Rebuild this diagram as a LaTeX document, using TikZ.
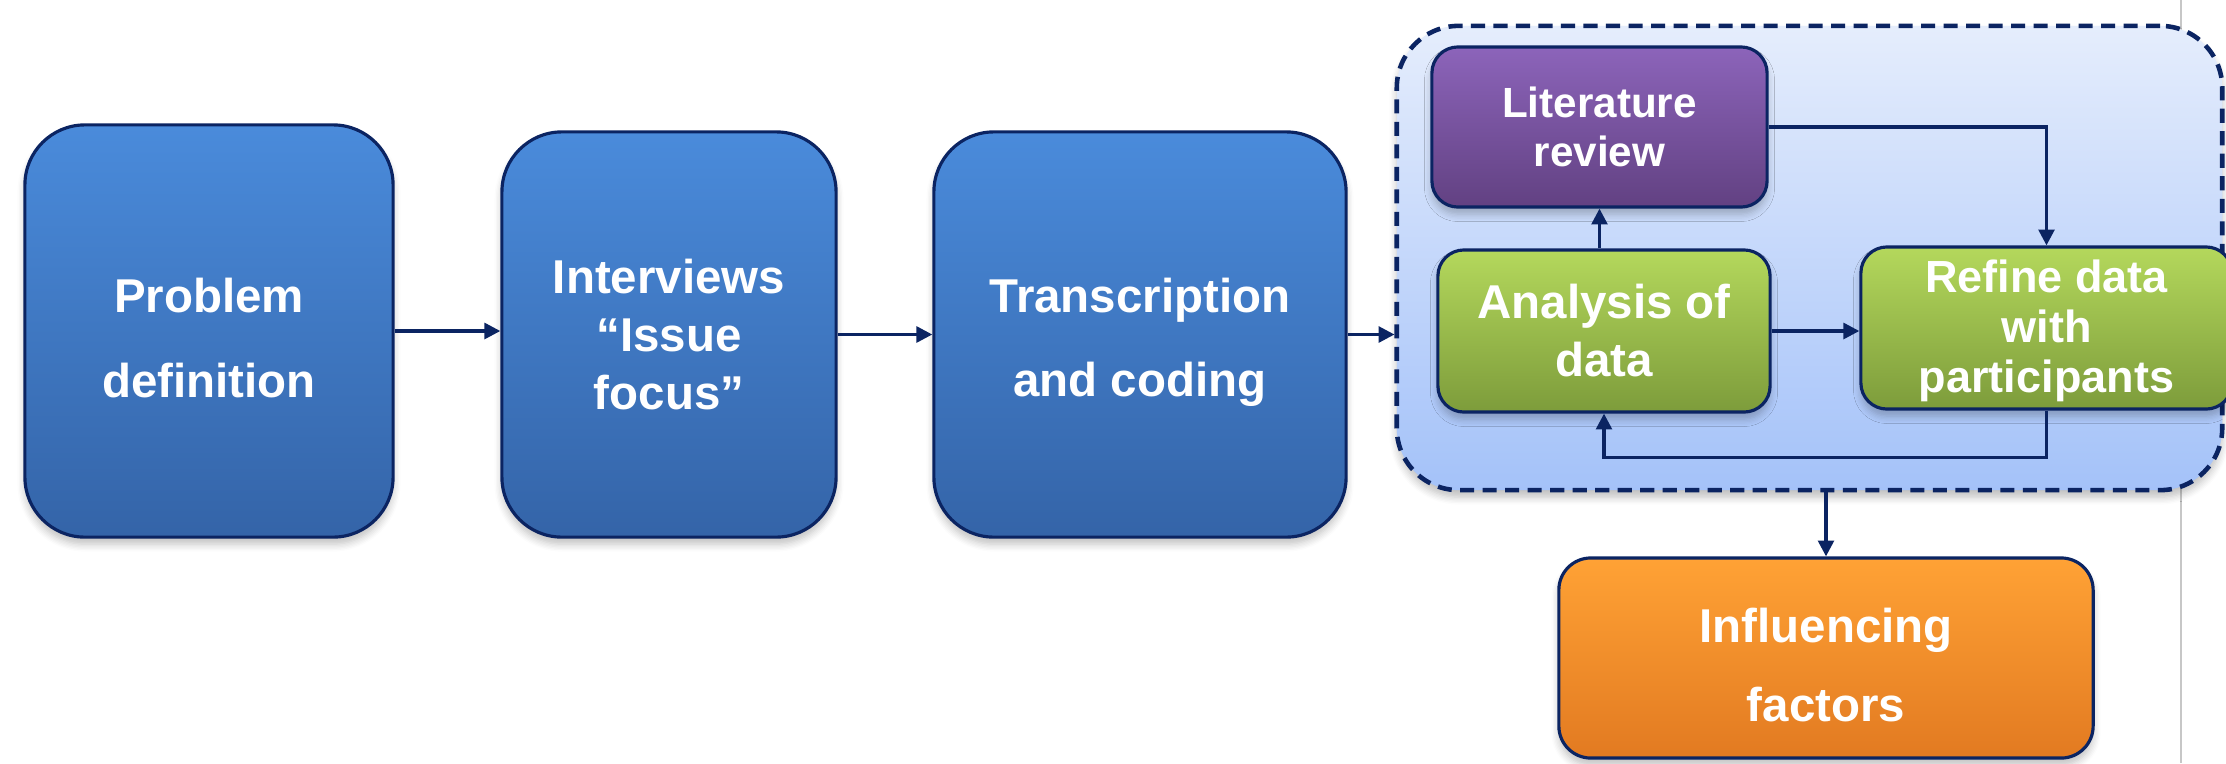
\documentclass[tikz,border=0pt]{standalone}
\usepackage{fontspec}
\setmainfont{Liberation Sans}
\usetikzlibrary{arrows.meta,shadows.blur}

\definecolor{navy}{HTML}{0B2462}
\definecolor{blueTop}{HTML}{4A8BDB}
\definecolor{blueBot}{HTML}{3464A8}
\definecolor{greenTop}{HTML}{B4D85C}
\definecolor{greenBot}{HTML}{7D9C3B}
\definecolor{purpTop}{HTML}{8C64BA}
\definecolor{purpBot}{HTML}{624182}
\definecolor{orTop}{HTML}{FFA235}
\definecolor{orBot}{HTML}{E27A21}
\definecolor{contTop}{HTML}{E5EDFC}
\definecolor{contBot}{HTML}{A4C2F9}

\tikzset{
  card/.style={draw=navy, line width=0.9pt, text=white, align=center,
    font=\bfseries, inner sep=0pt,
    blur shadow={shadow xshift=0pt, shadow yshift=-2pt, shadow blur steps=6, shadow opacity=25}},
  bluebox/.style={card, rounded corners=0.6cm, top color=blueTop, bottom color=blueBot},
  greenbox/.style={card, rounded corners=0.26cm, top color=greenTop, bottom color=greenBot},
  purplebox/.style={card, rounded corners=0.26cm, top color=purpTop, bottom color=purpBot},
  orangebox/.style={card, rounded corners=0.32cm, top color=orTop, bottom color=orBot},
  boxtext/.style={text=white, align=center, inner sep=0pt},
  groupbox/.style={draw=navy, line width=1.3pt, dash pattern=on 4pt off 2.4pt,
    rounded corners=0.62cm, top color=contTop, bottom color=contBot, inner sep=0pt,
    blur shadow={shadow xshift=0pt, shadow yshift=-2pt, shadow blur steps=6, shadow opacity=25}},
  arr/.style={draw=navy, line width=0.9pt, -{Triangle[length=4.5pt,width=4.5pt]}}
}

\begin{document}
\begin{tikzpicture}[x=0.01cm, y=-0.01cm]
  \useasboundingbox (0,0) rectangle (2226,763);

  % separator line on the right
  \draw[draw=black!22, line width=0.5pt] (2181,0) -- (2181,763);

  % main process steps
  \node[bluebox, minimum width=3.68cm, minimum height=4.12cm] (prob) at (209,331) {};
  \node[boxtext, font=\bfseries\fontsize{13.5}{24}\selectfont] (probtxt)
        at ([yshift=-0.07cm]prob.center) {Problem\\definition};
  \node[bluebox, minimum width=3.34cm, minimum height=4.05cm,
        font=\bfseries\fontsize{13.5}{16.5}\selectfont] (intv) at (669,334.5)
        {Interviews\\“Issue\\focus”};
  \node[bluebox, minimum width=4.12cm, minimum height=4.05cm] (trans) at (1140,334.5) {};
  \node[boxtext, font=\bfseries\fontsize{13.5}{24}\selectfont] (transtxt)
        at ([yshift=-0.08cm]trans.center) {Transcription\\and coding};

  % analysis group
  \node[groupbox, minimum width=8.25cm, minimum height=4.64cm] (grp) at (1809.5,258) {};

  \node[purplebox, minimum width=3.35cm, minimum height=1.60cm,
        font=\bfseries\fontsize{12}{14}\selectfont] (lit) at (1599.5,127)
        {Literature\\review};
  \node[greenbox, minimum width=3.32cm, minimum height=1.62cm,
        font=\bfseries\fontsize{13.5}{16.5}\selectfont] (ana) at (1604,331)
        {Analysis of\\data};
  \node[greenbox, minimum width=3.71cm, minimum height=1.62cm] (ref) at (2046.5,328) {};
  \node[boxtext, font=\bfseries\fontsize{12.8}{14.2}\selectfont] (reftxt)
        at ([yshift=-0.03cm]ref.center) {Refine data\\with\\participants};

  % outcome
  \node[orangebox, minimum width=5.34cm, minimum height=2.00cm] (infl) at (1826,658) {};
  \node[boxtext, font=\bfseries\fontsize{13.5}{22.5}\selectfont] (infltxt)
        at ([yshift=-0.07cm]infl.center) {Influencing\\factors};

  % connectors
  \draw[arr] (prob.east) -- (intv.west |- prob.east);
  \draw[arr] (intv.east) -- (trans.west |- intv.east);
  \draw[arr] (trans.east) -- (grp.west |- trans.east);
  \draw[arr] (ana.east) -- (ref.west |- ana.east);
  \draw[arr] (ana.north -| lit.south) -- (lit.south);
  \draw[arr] (lit.east) -| (ref.north);
  \draw[arr] (ref.south) -- ++(0,47) -| (ana.south);
  \draw[arr] (grp.south -| infl.north) -- (infl.north);
\end{tikzpicture}
\end{document}
